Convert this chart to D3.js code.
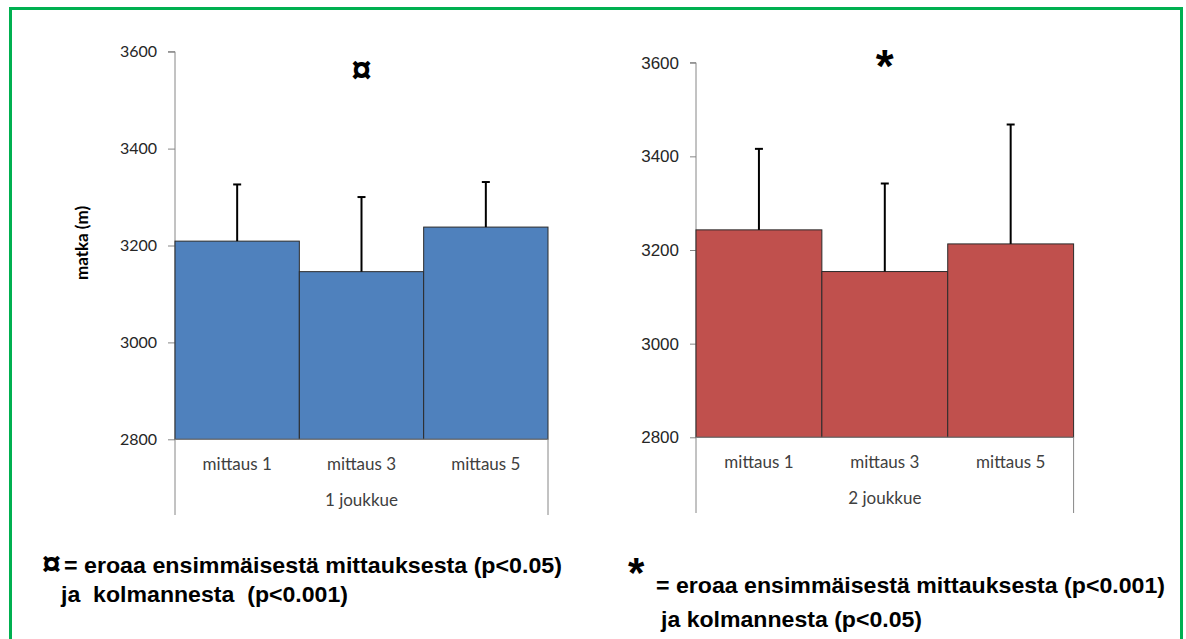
<!DOCTYPE html>
<html>
<head>
<meta charset="utf-8">
<script src="https://cdn.jsdelivr.net/npm/d3@7"></script>
<style>
  html, body { margin: 0; padding: 0; background: #fff; }
  svg { display: block; }
</style>
</head>
<body>
<svg id="chart" width="1186" height="639"></svg>
<script>
// Measurements (m) per team, mean and standard deviation
const categories = ["mittaus 1", "mittaus 3", "mittaus 5"];
const team1Means = [3209, 3146, 3238];
const team1SD = [117, 154, 93];
const team2Means = [3243, 3154, 3213];
const team2SD = [173, 188, 255];
const yTicks = [2800, 3000, 3200, 3400, 3600];
const groupLabels = ["1 joukkue", "2 joukkue"];
const markers = ["¤", "*"];

const svg = d3.select("#chart");

// Outer frame
svg.append("rect")
  .attr("x", 10.5).attr("y", 8.5)
  .attr("width", 1171).attr("height", 660)
  .attr("fill", "none")
  .attr("stroke", "#00B050")
  .attr("stroke-width", 3);

const axisColor = "#868686";

function drawPanel(opts) {
  const g = svg.append("g");
  const x = d3.scaleBand().domain(categories).range([opts.x0, opts.x1]).padding(0);
  const y = d3.scaleLinear().domain([2800, 3600]).range([opts.yBottom, opts.yTop]);

  // value axis
  const yAxis = d3.axisLeft(y).tickValues(yTicks).tickSize(opts.tick).tickPadding(opts.pad).tickFormat(d3.format("d"));
  const ya = g.append("g").attr("transform", `translate(${opts.x0},0)`).call(yAxis);
  ya.select(".domain").attr("stroke", axisColor).attr("d", `M${-opts.tick},${y(3600)}H0V${y(2800)}`);
  ya.selectAll(".tick line").attr("stroke", axisColor);
  ya.selectAll(".tick text")
    .attr("fill", "#262626")
    .style("font-family", opts.tickFont)
    .style("font-size", opts.tickSize + "px");

  // bars
  const means = opts.means, sd = opts.sd;
  g.selectAll("rect.bar").data(categories).enter().append("rect")
    .attr("class", "bar")
    .attr("x", d => x(d))
    .attr("y", (d, i) => y(means[i]))
    .attr("width", x.bandwidth())
    .attr("height", (d, i) => y(2800) - y(means[i]))
    .attr("fill", opts.fill)
    .attr("stroke", "#2b2b2b")
    .attr("stroke-width", 1);

  // error bars (upper only)
  const eb = g.selectAll("g.err").data(categories).enter().append("g").attr("class", "err");
  eb.append("line")
    .attr("x1", d => x(d) + x.bandwidth() / 2)
    .attr("x2", d => x(d) + x.bandwidth() / 2)
    .attr("y1", (d, i) => y(means[i]))
    .attr("y2", (d, i) => y(means[i] + sd[i]))
    .attr("stroke", "#000").attr("stroke-width", 2);
  eb.append("line")
    .attr("x1", d => x(d) + x.bandwidth() / 2 - 4)
    .attr("x2", d => x(d) + x.bandwidth() / 2 + 4)
    .attr("y1", (d, i) => y(means[i] + sd[i]))
    .attr("y2", (d, i) => y(means[i] + sd[i]))
    .attr("stroke", "#000").attr("stroke-width", 2);

  // category axis with group frame
  g.append("path")
    .attr("d", `M${opts.x0},${opts.axisBottom}V${y(2800)}H${opts.x1}V${opts.axisBottom}`)
    .attr("fill", "none").attr("stroke", axisColor).attr("stroke-width", 1);

  g.selectAll("text.cat").data(categories).enter().append("text")
    .attr("class", "cat")
    .attr("x", d => x(d) + x.bandwidth() / 2)
    .attr("y", opts.catY)
    .attr("text-anchor", "middle")
    .attr("fill", "#404040")
    .style("font-family", "Lato, sans-serif")
    .style("font-size", "17px")
    .text(d => d);

  g.append("text")
    .attr("x", (opts.x0 + opts.x1) / 2)
    .attr("y", opts.groupY)
    .attr("text-anchor", "middle")
    .attr("fill", "#404040")
    .style("font-family", "Lato, sans-serif")
    .style("font-size", "17px")
    .text(opts.group);

  // significance marker
  g.append("text")
    .attr("x", x(categories[1]) + x.bandwidth() / 2)
    .attr("y", opts.markY)
    .attr("text-anchor", "middle")
    .style("font-family", "Liberation Sans, Arial, sans-serif")
    .style("font-weight", "bold")
    .style("font-size", opts.markSize + "px")
    .text(opts.marker);
}

drawPanel({
  x0: 175, x1: 548, yTop: 51.7, yBottom: 439.3, axisBottom: 515,
  means: team1Means, sd: team1SD, fill: "#4F81BD",
  tick: 7, pad: 11, tickFont: "Lato, sans-serif", tickSize: 16,
  catY: 470, groupY: 506, group: groupLabels[0],
  marker: markers[0], markY: 82, markSize: 36
});

drawPanel({
  x0: 696, x1: 1073.6, yTop: 62.7, yBottom: 437.3, axisBottom: 513,
  means: team2Means, sd: team2SD, fill: "#C0504D",
  tick: 6, pad: 11, tickFont: "Liberation Sans, Arial, sans-serif", tickSize: 17,
  catY: 468, groupY: 504, group: groupLabels[1],
  marker: markers[1], markY: 82, markSize: 46
});

// value axis title
svg.append("text")
  .attr("transform", "translate(88,243) rotate(-90)")
  .attr("text-anchor", "middle")
  .attr("fill", "#000")
  .style("font-family", "Lato, sans-serif")
  .style("font-weight", "bold")
  .style("font-size", "17px")
  .text("matka (m)");

// notes below the panels
const noteFont = "Liberation Sans, Arial, sans-serif";
function note(x, y, txt, len, size) {
  const t = svg.append("text")
    .attr("x", x).attr("y", y)
    .style("font-family", noteFont)
    .style("font-weight", "bold")
    .style("font-size", size + "px")
    .style("white-space", "pre")
    .text(txt);
  if (len) t.attr("textLength", len).attr("lengthAdjust", "spacingAndGlyphs");
  return t;
}
note(42, 575, "¤", null, 34);
note(64, 573, "= eroaa ensimmäisestä mittauksesta (p<0.05)", 498, 22);
note(61, 602, "ja  kolmannesta  (p<0.001)", 287, 22);
note(628, 587, "*", null, 42);
note(656, 593, "= eroaa ensimmäisestä mittauksesta (p<0.001)", 509, 22);
note(661, 627, "ja kolmannesta (p<0.05)", 261, 22);
</script>
</body>
</html>
